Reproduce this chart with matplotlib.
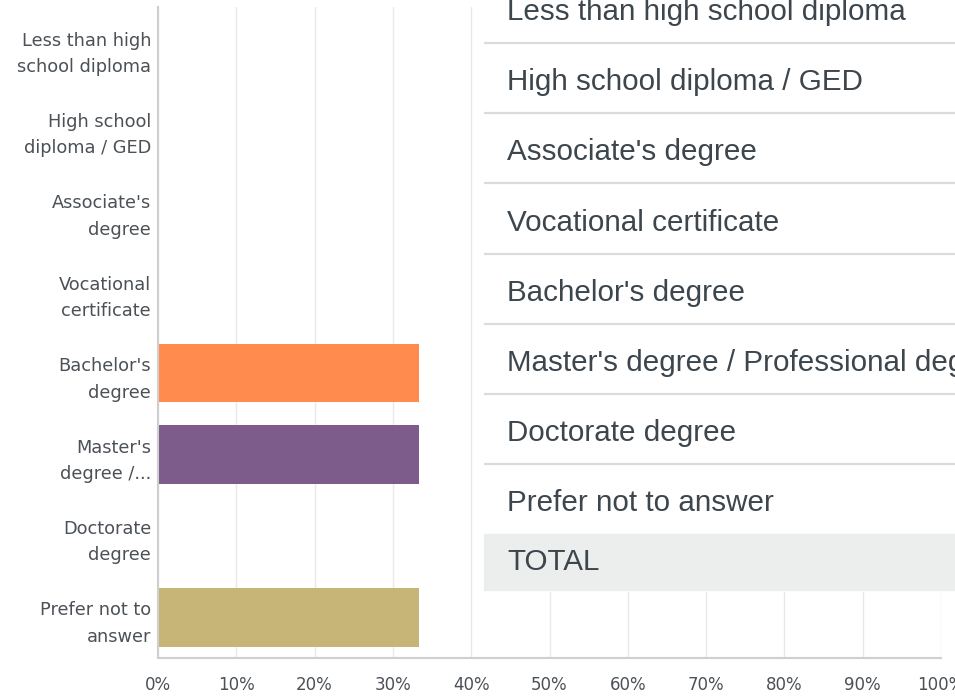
import matplotlib
matplotlib.use("Agg")
import matplotlib.pyplot as plt
import matplotlib.patches as mpatches
import numpy as np

# ── data ───────────────────────────────────────────────────────────────────────

CATEGORIES = [
    "Less than high school diploma",
    "High school diploma / GED",
    "Associate's degree",
    "Vocational certificate",
    "Bachelor's degree",
    "Master's degree / Professional degree",
    "Doctorate degree",
    "Prefer not to answer",
]

# wrapped / truncated labels as shown on the chart axis
AXIS_LABELS = [
    "Less than high\nschool diploma",
    "High school\ndiploma / GED",
    "Associate's\ndegree",
    "Vocational\ncertificate",
    "Bachelor's\ndegree",
    "Master's\ndegree /...",
    "Doctorate\ndegree",
    "Prefer not to\nanswer",
]

PERCENTS = [0.0, 0.0, 0.0, 0.0, 33.33, 33.33, 0.0, 33.33]

COLORS = ["#4db6ac", "#6bc8cd", "#f05b4f", "#f7cc45",
          "#ff8b4f", "#7d5b8b", "#a9b852", "#c7b577"]

X_TICKS = [0, 10, 20, 30, 40, 50, 60, 70, 80, 90, 100]

TABLE_TOTAL = "TOTAL"

# ── figure ─────────────────────────────────────────────────────────────────────

W, H = 955, 697
fig = plt.figure(figsize=(W / 100, H / 100), dpi=100)
fig.patch.set_facecolor("white")

LABEL_COLOR = "#4b5157"

ax = fig.add_axes([158 / W, (H - 658) / H, (941 - 158) / W, (658 - 7) / H])
y = np.arange(len(CATEGORIES))
ax.barh(y, PERCENTS, height=0.72, color=COLORS, linewidth=0, zorder=3)

ax.set_xlim(0, 100)
ax.set_ylim(len(CATEGORIES) - 0.5, -0.5)
ax.set_xticks(X_TICKS)
ax.set_xticklabels([f"{t}%" for t in X_TICKS], fontsize=12,
                   color=LABEL_COLOR, family="DejaVu Sans")
ax.set_yticks(y)
ax.set_yticklabels(AXIS_LABELS, fontsize=12.8, color=LABEL_COLOR,
                   family="DejaVu Sans", linespacing=1.6, ma="right")
ax.tick_params(axis="both", length=0)
ax.tick_params(axis="x", pad=13)
ax.tick_params(axis="y", pad=5)
ax.xaxis.grid(True, color="#e9e9e9", linewidth=1.0, zorder=0)
ax.set_axisbelow(True)
ax.spines[["top", "right"]].set_visible(False)
for side in ("left", "bottom"):
    ax.spines[side].set_color("#cfcfcf")
    ax.spines[side].set_linewidth(1.5)
    ax.spines[side].set_zorder(4)

# ── overlaid answer-choice table (clipped on the right) ───────────────────────

tx0, ty1 = 476, 592
tab = fig.add_axes([tx0 / W, (H - ty1) / H, (W - tx0) / W, ty1 / H], zorder=5)
tab.set_xlim(tx0, W)
tab.set_ylim(ty1, 0)
tab.set_facecolor("white")
tab.axis("off")
tab.add_patch(mpatches.Rectangle((tx0, 0), W - tx0, ty1, color="white",
                                 zorder=0))

row_h = 70.2
first_line = 43
for i, name in enumerate(CATEGORIES):
    yc = 12 + i * row_h
    tab.text(507, yc, name, fontsize=21.3, color="#3d464d",
             family="Liberation Sans", va="center", ha="left", zorder=3,
             clip_on=True)
    if i < len(CATEGORIES) - 1:
        yl = first_line + i * row_h
        tab.plot([484, W], [yl, yl], color="#d9dcdd", linewidth=1.6,
                 zorder=2, solid_capstyle="butt")

tab.add_patch(mpatches.Rectangle((484, 534), W - 484, 56, color="#eceeee",
                                 zorder=1))
tab.text(507, 562, TABLE_TOTAL, fontsize=21.3, color="#3d464d",
         family="Liberation Sans", va="center", ha="left", zorder=3)

fig.savefig("out.png", dpi=100)
